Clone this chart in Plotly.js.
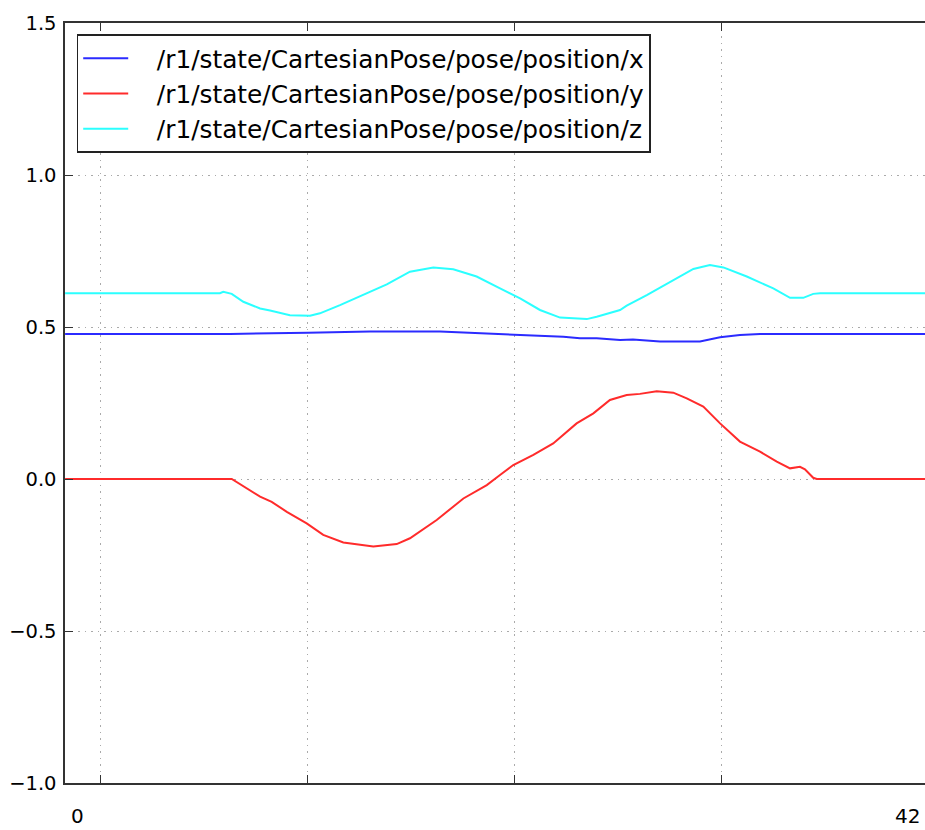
<!DOCTYPE html>
<html>
<head>
<meta charset="utf-8">
<script src="https://cdn.plot.ly/plotly-3.0.1.min.js"></script>
<style>html,body{margin:0;padding:0;background:#fff;}</style>
</head>
<body>
<div id="chart" style="width:925px;height:830px;"></div>
<script>
// Series names
const seriesNames = [
  "/r1/state/CartesianPose/pose/position/x",
  "/r1/state/CartesianPose/pose/position/y",
  "/r1/state/CartesianPose/pose/position/z"
];
// Time (s) and values
const tX = [-1.71, 6.26, 10.02, 13.02, 16.40, 20.02, 22.36, 23.16, 23.97, 25.10, 25.72, 27.03, 28.96, 29.93, 30.89, 31.86, 34.12, 34.43, 39.83];
const posX = [0.477, 0.477, 0.481, 0.485, 0.485, 0.474, 0.468, 0.463, 0.463, 0.457, 0.459, 0.452, 0.452, 0.466, 0.474, 0.477, 0.479, 0.477, 0.477];

const tY = [-1.71, 6.34, 7.71, 8.27, 9.00, 9.96, 10.76, 11.73, 13.18, 14.31, 14.95, 16.24, 17.53, 18.66, 19.30, 19.94, 20.91, 21.87, 23.00, 23.81, 24.61, 25.42, 26.06, 26.87, 27.67, 28.32, 29.12, 29.93, 30.89, 31.86, 32.67, 33.31, 33.79, 34.03, 34.43, 34.60, 39.83];
const posY = [0, 0, -0.058, -0.075, -0.108, -0.146, -0.184, -0.209, -0.222, -0.214, -0.195, -0.135, -0.064, -0.020, 0.013, 0.046, 0.079, 0.117, 0.183, 0.216, 0.260, 0.276, 0.280, 0.289, 0.284, 0.265, 0.238, 0.183, 0.123, 0.090, 0.057, 0.035, 0.040, 0.032, 0.004, 0, 0];

const tZ = [-1.71, 5.77, 5.93, 6.34, 6.90, 7.71, 8.19, 9.15, 10.12, 10.60, 11.57, 12.70, 13.83, 14.95, 16.08, 17.04, 18.17, 19.30, 20.27, 21.23, 22.20, 23.49, 23.97, 25.10, 25.42, 26.39, 27.51, 28.64, 29.44, 30.09, 31.22, 32.50, 33.31, 33.95, 34.43, 34.76, 39.83];
const posZ = [0.611, 0.611, 0.616, 0.609, 0.583, 0.561, 0.554, 0.539, 0.537, 0.545, 0.572, 0.605, 0.640, 0.682, 0.696, 0.690, 0.666, 0.627, 0.594, 0.556, 0.531, 0.526, 0.534, 0.556, 0.570, 0.605, 0.649, 0.691, 0.704, 0.696, 0.666, 0.627, 0.596, 0.596, 0.609, 0.611, 0.611];

const colors = ["#2b2bff", "#ff2b2b", "#2bffff"];
const xTickVals = [0, 10, 20, 30];
const yTickVals = [-1.0, -0.5, 0.0, 0.5, 1.0, 1.5];
const yTickText = ["\u22121.0", "\u22120.5", "0.0", "0.5", "1.0", "1.5"];
const xEndLabels = ["0", "42"];

const FONT = "DejaVu Sans, sans-serif";
const PAD = "\u00a0\u00a0\u00a0";

const data = [
  {x: tX, y: posX, name: PAD + seriesNames[0], legendgroup: "a"},
  {x: tY, y: posY, name: PAD + seriesNames[1], legendgroup: "b"},
  {x: tZ, y: posZ, name: PAD + seriesNames[2], legendgroup: "c"}
].map((d, i) => Object.assign(d, {
  type: "scatter", mode: "lines",
  line: {color: colors[i], width: 2}
}));

const layout = {
  width: 925, height: 830,
  margin: {l: 65, r: 0, t: 23, b: 47},
  paper_bgcolor: "#fff", plot_bgcolor: "#fff",
  font: {family: FONT, color: "#000", size: 19},
  showlegend: true,
  legend: {
    x: 0.0135, y: 0.9855, xanchor: "left", yanchor: "top",
    bordercolor: "#222", borderwidth: 1.6, bgcolor: "#fff",
    font: {family: FONT, size: 24.8, color: "#000"},
    traceorder: "grouped", tracegroupgap: 0, itemwidth: 45
  },
  xaxis: {
    range: [-1.715, 39.83],
    tickvals: xTickVals, ticktext: ["", "", "", ""],
    ticks: "inside", ticklen: 8, tickcolor: "#333",
    showline: true, linecolor: "#333", linewidth: 1.6, mirror: "ticks",
    showgrid: true, gridcolor: "#aaaaaa", griddash: "1.5px,5px", gridwidth: 1,
    zeroline: false
  },
  yaxis: {
    range: [-1.0, 1.5],
    tickvals: yTickVals, ticktext: yTickText,
    ticks: "inside", ticklen: 8, tickcolor: "#333",
    showline: true, linecolor: "#333", linewidth: 1.6, mirror: false,
    showgrid: true, gridcolor: "#aaaaaa", griddash: "1.5px,5px", gridwidth: 1,
    zeroline: false, ticklabelstandoff: 3,
    tickfont: {family: FONT, size: 19.5, color: "#000"}
  },
  annotations: [
    {xref: "paper", yref: "paper", x: (77 - 65) / 860, y: -0.043, text: xEndLabels[0], showarrow: false, xanchor: "center", yanchor: "middle", font: {family: FONT, size: 20, color: "#000"}},
    {xref: "paper", yref: "paper", x: (907 - 65) / 860, y: -0.043, text: xEndLabels[1], showarrow: false, xanchor: "center", yanchor: "middle", font: {family: FONT, size: 20, color: "#000"}}
  ]
};

Plotly.newPlot("chart", data, layout, {displayModeBar: false, staticPlot: true});
</script>
</body>
</html>
